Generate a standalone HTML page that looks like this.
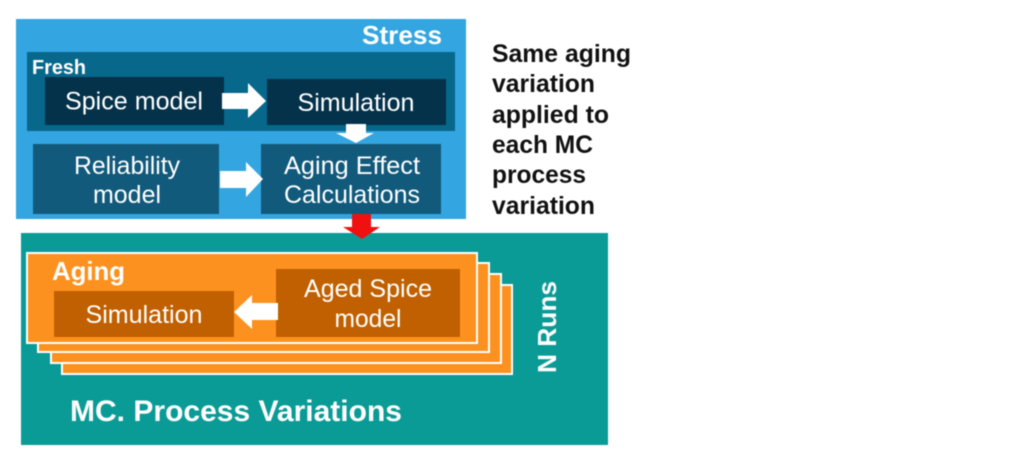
<!DOCTYPE html>
<html>
<head>
<meta charset="utf-8">
<style>
html,body{margin:0;padding:0;background:#fff;width:1013px;height:465px;overflow:hidden}
svg{display:block;filter:blur(.4px)}
text{font-family:"Liberation Sans",Arial,sans-serif}
</style>
</head>
<body>
<svg width="1013" height="465" viewBox="0 0 1013 465" xmlns="http://www.w3.org/2000/svg">
<rect width="1013" height="465" fill="#fff"/>
<!-- Stress -->
<rect x="16" y="19" width="450" height="200" fill="#33a5e0"/>
<text x="442" y="44" text-anchor="end" font-size="26" font-weight="bold" fill="#fff" textLength="80" lengthAdjust="spacingAndGlyphs">Stress</text>
<!-- Fresh -->
<rect x="27" y="52" width="428" height="79" fill="#07688c"/>
<text x="32" y="74" font-size="20" font-weight="bold" fill="#fff" textLength="54" lengthAdjust="spacingAndGlyphs">Fresh</text>
<rect x="45" y="77" width="179" height="48" fill="#04324a"/>
<text x="134" y="109.5" text-anchor="middle" font-size="25" fill="#fff" textLength="138" lengthAdjust="spacingAndGlyphs">Spice model</text>
<rect x="267" y="79" width="179" height="46" fill="#04324a"/>
<text x="356" y="111" text-anchor="middle" font-size="25" fill="#fff" textLength="117" lengthAdjust="spacingAndGlyphs">Simulation</text>
<polygon points="222,93 248,93 248,83 266,101 248,118 248,109 222,109" fill="#fff"/>
<polygon points="346,124 366,124 366,133 374,133 356,143 336,133 346,133" fill="#fff"/>
<!-- Lower blue boxes -->
<rect x="33" y="144" width="186" height="70" fill="#115a7c"/>
<text x="127" y="174" text-anchor="middle" font-size="25" fill="#fff" textLength="106" lengthAdjust="spacingAndGlyphs">Reliability</text>
<text x="127" y="203" text-anchor="middle" font-size="25" fill="#fff" textLength="68" lengthAdjust="spacingAndGlyphs">model</text>
<rect x="261" y="144" width="180" height="70" fill="#115a7c"/>
<text x="352" y="174" text-anchor="middle" font-size="25" fill="#fff" textLength="136" lengthAdjust="spacingAndGlyphs">Aging Effect</text>
<text x="352" y="203" text-anchor="middle" font-size="25" fill="#fff" textLength="136" lengthAdjust="spacingAndGlyphs">Calculations</text>
<polygon points="220,171 246,171 246,162 263,179 246,197 246,188 220,188" fill="#fff"/>
<!-- Teal -->
<rect x="21" y="233" width="587" height="212" fill="#0b9b96"/>
<polygon points="352,214 371,214 371,227 380,227 362,239 343,227 352,227" fill="#f01010"/>
<!-- Stack -->
<rect x="62" y="285" width="450" height="89" fill="#fc9120" stroke="#fff" stroke-width="2"/>
<rect x="51" y="274" width="450" height="89" fill="#fc9120" stroke="#fff" stroke-width="2"/>
<rect x="38" y="263" width="451" height="89" fill="#fc9120" stroke="#fff" stroke-width="2"/>
<rect x="27" y="253" width="450" height="90" fill="#fc9120" stroke="#fff" stroke-width="2"/>
<text x="52" y="280" font-size="26" font-weight="bold" fill="#fff" textLength="73" lengthAdjust="spacingAndGlyphs">Aging</text>
<rect x="54" y="291" width="180" height="46" fill="#c06000"/>
<text x="144" y="323" text-anchor="middle" font-size="25" fill="#fff" textLength="117" lengthAdjust="spacingAndGlyphs">Simulation</text>
<rect x="276" y="269" width="184" height="68" fill="#c06000"/>
<text x="368" y="297" text-anchor="middle" font-size="25" fill="#fff" textLength="128" lengthAdjust="spacingAndGlyphs">Aged Spice</text>
<text x="368" y="327" text-anchor="middle" font-size="25" fill="#fff" textLength="67" lengthAdjust="spacingAndGlyphs">model</text>
<polygon points="278,303 252,303 252,295 234,312 252,329 252,320 278,320" fill="#fff"/>
<text transform="translate(556,373) rotate(-90)" font-size="26" font-weight="bold" fill="#fff" textLength="92" lengthAdjust="spacingAndGlyphs">N Runs</text>
<text x="70" y="421" font-size="30" font-weight="bold" fill="#fff" textLength="332" lengthAdjust="spacingAndGlyphs">MC. Process Variations</text>
<!-- Note -->
<g font-size="25" font-weight="bold" fill="#111">
<text x="492" y="62" textLength="139" lengthAdjust="spacingAndGlyphs">Same aging</text>
<text x="492" y="92" textLength="103" lengthAdjust="spacingAndGlyphs">variation</text>
<text x="492" y="123" textLength="117" lengthAdjust="spacingAndGlyphs">applied to</text>
<text x="492" y="153" textLength="101" lengthAdjust="spacingAndGlyphs">each MC</text>
<text x="492" y="183" textLength="94" lengthAdjust="spacingAndGlyphs">process</text>
<text x="492" y="214" textLength="103" lengthAdjust="spacingAndGlyphs">variation</text>
</g>
</svg>
</body>
</html>
